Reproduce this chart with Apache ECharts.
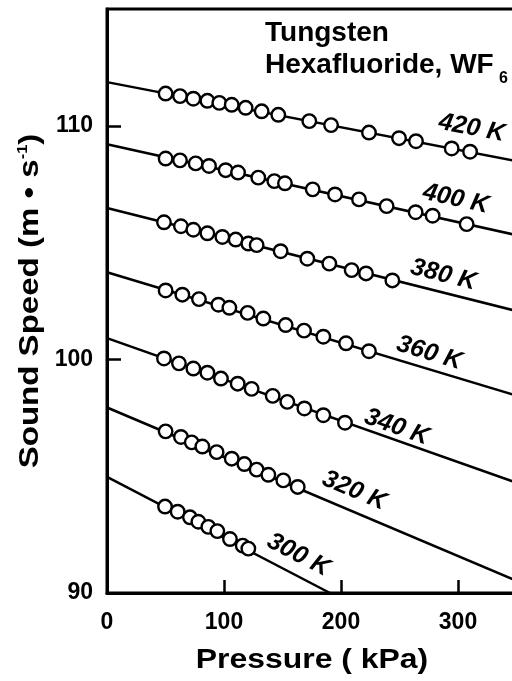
<!DOCTYPE html>
<html>
<head>
<meta charset="utf-8">
<script src="https://cdn.jsdelivr.net/npm/echarts@6/dist/echarts.min.js"></script>
<style>html,body{margin:0;padding:0;background:#fff}#c{width:512px;height:681px}</style>
</head>
<body>
<div id="c"></div>
<script>
// ---- data ----
const temps = ['420 K', '400 K', '380 K', '360 K', '340 K', '320 K', '300 K'];

const p420 = [50.1, 62.4, 73.8, 85.8, 96.0, 106.6, 118.5, 132.2, 146.4, 172.9, 191.5, 223.9, 249.6, 264.1, 294.6, 310.3];
const c420 = [111.38, 111.27, 111.16, 111.07, 110.98, 110.90, 110.77, 110.62, 110.47, 110.20, 110.03, 109.71, 109.47, 109.34, 109.03, 108.89];

const p400 = [50.1, 62.4, 75.8, 87.2, 101.4, 112.0, 129.3, 143.0, 152.1, 175.8, 194.9, 215.4, 239.0, 263.8, 278.3, 307.4];
const c400 = [108.60, 108.52, 108.39, 108.28, 108.10, 108.00, 107.78, 107.63, 107.54, 107.28, 107.06, 106.85, 106.56, 106.30, 106.15, 105.79];

const p380 = [48.7, 63.2, 73.8, 85.8, 98.6, 110.0, 120.8, 127.9, 148.4, 171.2, 190.0, 209.1, 221.4, 243.9];
const c380 = [105.87, 105.70, 105.55, 105.40, 105.24, 105.13, 104.96, 104.89, 104.63, 104.31, 104.10, 103.82, 103.68, 103.38];

const p360 = [50.1, 64.4, 78.6, 95.2, 104.6, 120.2, 133.6, 152.7, 168.4, 184.9, 204.3, 223.9];
const c360 = [102.95, 102.77, 102.58, 102.34, 102.21, 101.99, 101.75, 101.47, 101.23, 100.97, 100.69, 100.35];

const p340 = [48.7, 61.5, 73.8, 85.8, 97.4, 111.7, 123.6, 141.6, 154.1, 168.7, 184.9, 203.4];
const c340 = [100.04, 99.83, 99.61, 99.43, 99.18, 98.96, 98.74, 98.44, 98.18, 97.90, 97.61, 97.29];

const p320 = [50.1, 63.2, 72.4, 81.5, 93.7, 106.6, 117.4, 127.9, 137.9, 150.7, 163.0];
const c320 = [96.92, 96.68, 96.45, 96.27, 96.03, 95.75, 95.52, 95.28, 95.06, 94.82, 94.54];

const p300 = [49.6, 60.4, 70.9, 78.1, 86.6, 94.3, 105.1, 116.0, 120.8];
const c300 = [93.70, 93.48, 93.24, 93.05, 92.83, 92.65, 92.31, 92.03, 91.90];

// fitted lines (start at p = 0, end point)
const fitStartC = [111.87, 109.21, 106.48, 103.73, 100.91, 97.94, 94.97];
const fitEndP   = [350, 350, 350, 350, 350, 350, 190.6];
const fitEndC   = [108.49, 105.32, 102.07, 98.45, 94.72, 90.52, 90.0];

// isotherm label anchors (data coordinates)
const labelP = [311.7, 298.1, 287.4, 275.4, 247.6, 211.3, 163.5];
const labelC = [109.90, 106.87, 103.62, 100.27, 97.10, 94.38, 91.63];

const xTicks = { min: 0, max: 350, interval: 100 };
const yTicks = { min: 90, max: 115, interval: 10 };

const P = [p420, p400, p380, p360, p340, p320, p300];
const C = [c420, c400, c380, c360, c340, c320, c300];

// ---- chart ----
const FONT = 'Liberation Sans, Arial, sans-serif';
const chart = echarts.init(document.getElementById('c'), null, { renderer: 'canvas' });

const series = [];
temps.forEach((t, i) => {
  series.push({
    type: 'line', name: t + ' fit',
    data: [[0, fitStartC[i]], [fitEndP[i], fitEndC[i]]],
    symbol: 'none', lineStyle: { color: '#000', width: 2.5 }, z: 2, silent: true
  });
});
temps.forEach((t, i) => {
  series.push({
    type: 'scatter', name: t,
    data: P[i].map((p, k) => [p, C[i][k]]),
    symbol: 'circle', symbolSize: 13.5,
    itemStyle: { color: '#fff', borderColor: '#000', borderWidth: 2.4, opacity: 1 },
    z: 3, silent: true
  });
});

const option = {
  animation: false,
  backgroundColor: '#fff',
  grid: {
    left: 107, right: -4.5, top: 9, bottom: 88,
    show: true, borderColor: '#000', borderWidth: 3,
    outerBoundsMode: 'none'
  },
  xAxis: {
    type: 'value', min: xTicks.min, max: xTicks.max, interval: xTicks.interval,
    axisLine: { show: true, lineStyle: { color: '#000', width: 3 } },
    axisTick: { show: true, inside: true, length: 13, lineStyle: { color: '#000', width: 2.5 } },
    axisLabel: { fontFamily: FONT, fontWeight: 'bold', fontSize: 23, color: '#000', margin: 18, showMaxLabel: false },
    splitLine: { show: false }
  },
  yAxis: {
    type: 'value', min: yTicks.min, max: yTicks.max, interval: yTicks.interval,
    axisLine: { show: true, lineStyle: { color: '#000', width: 3 } },
    axisTick: { show: true, inside: true, length: 14, lineStyle: { color: '#000', width: 2.5 } },
    axisLabel: { fontFamily: FONT, fontWeight: 'bold', fontSize: 23, color: '#000', margin: 14, showMaxLabel: false },
    splitLine: { show: false }
  },
  graphic: [
    { type: 'text', left: 265, top: 19, style: { text: 'Tungsten', font: 'bold 28px ' + FONT, fill: '#000' } },
    { type: 'text', left: 265, top: 51, style: { text: 'Hexafluoride, WF', font: 'bold 28px ' + FONT, fill: '#000' } },
    { type: 'text', left: 499, top: 71, style: { text: '6', font: 'bold 16px ' + FONT, fill: '#000' } },
    // x-axis title
    { type: 'text', x: 312, y: 660, scaleX: 1.14,
      style: { text: 'Pressure ( kPa)', font: 'bold 28px ' + FONT, fill: '#000', align: 'center', verticalAlign: 'middle' } },
    // y-axis title
    { type: 'text', x: 30, y: 301, rotation: Math.PI / 2, scaleX: 1.18,
      style: {
        text: '{a|Sound Speed (m • s}{sup|-1}{a|)}', fill: '#000', align: 'center', verticalAlign: 'middle',
        font: 'bold 28px ' + FONT,
        rich: {
          a: { fontFamily: FONT, fontWeight: 'bold', fontSize: 28, fill: '#000' },
          sup: { fontFamily: FONT, fontWeight: 'bold', fontSize: 14, fill: '#000', verticalAlign: 'top', padding: [0, 0, 14, 0] }
        }
      } }
  ],
  series: series
};
chart.setOption(option);

// isotherm labels, rotated along their line
const labelData = temps.map((t, i) => {
  const a = chart.convertToPixel({ gridIndex: 0 }, [0, fitStartC[i]]);
  const b = chart.convertToPixel({ gridIndex: 0 }, [fitEndP[i], fitEndC[i]]);
  const ang = Math.atan2(b[1] - a[1], b[0] - a[0]) * 180 / Math.PI;
  return { name: t, value: [labelP[i], labelC[i]], label: { rotate: -ang } };
});
chart.setOption({
  series: series.concat([{
    type: 'scatter', name: 'labels', data: labelData, symbolSize: 0, z: 4, silent: true,
    itemStyle: { opacity: 1, color: '#000' },
    label: {
      show: true, position: 'inside', formatter: p => p.name, opacity: 1,
      fontFamily: FONT, fontWeight: 'bold', fontStyle: 'italic', fontSize: 25, color: '#000'
    }
  }])
});
</script>
</body>
</html>
